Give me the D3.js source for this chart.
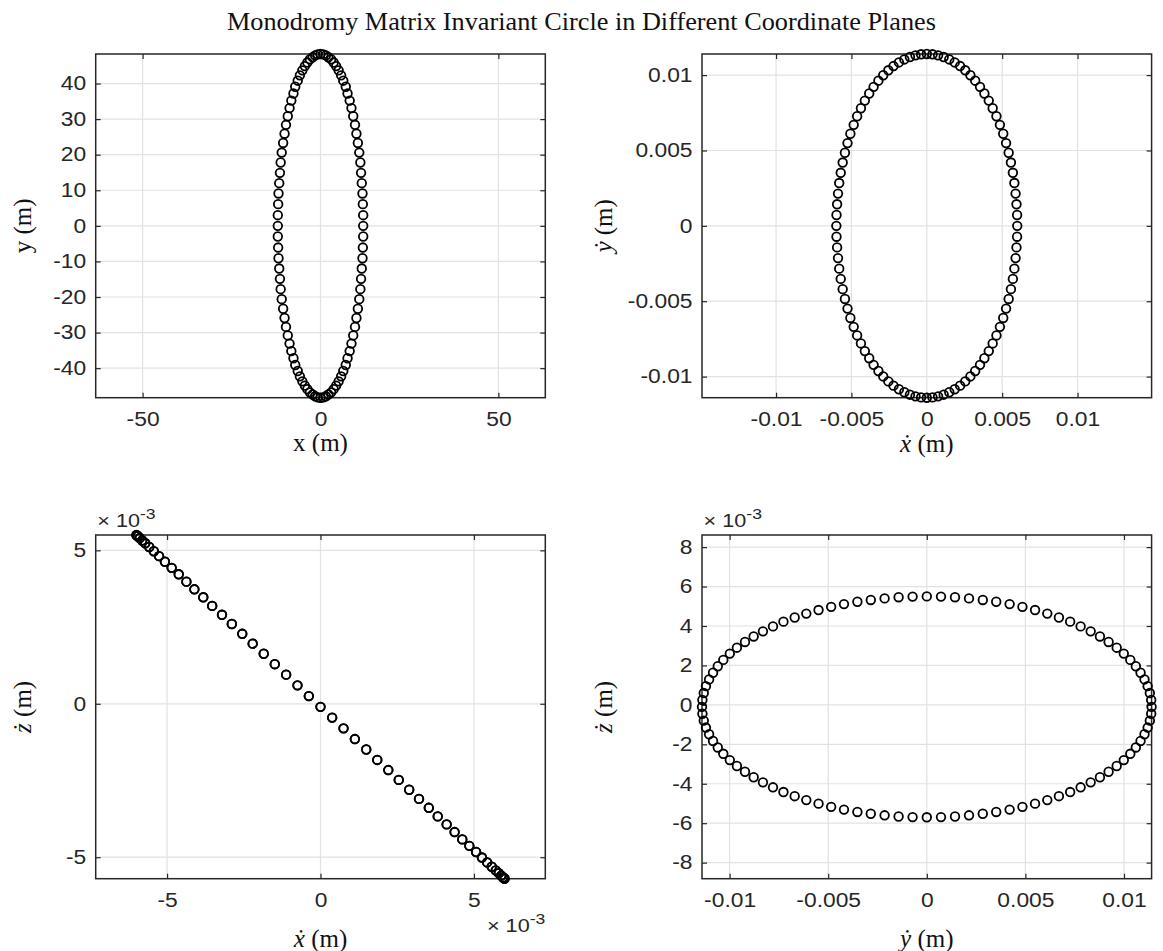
<!DOCTYPE html>
<html>
<head>
<meta charset="utf-8">
<script src="https://cdn.jsdelivr.net/npm/d3@7"></script>
<style>
  body { margin: 0; background: #fff; }
  svg { display: block; }
</style>
</head>
<body>
<div id="chart"></div>
<script>
// invariant circle samples
// positions in m, velocities in units of 1e-3 m
const xPos = [0, 0.8, 1.5, 2.2, 3.0, 3.7, 4.4, 5.1, 5.8, 6.4, 7.1, 7.6, 8.2, 8.7, 9.2, 9.7, 10.1, 10.5, 10.9, 11.2, 11.4, 11.6, 11.8, 11.9, 12.0, 12.0,
  12.0, 11.9, 11.8, 11.6, 11.4, 11.2, 10.9, 10.5, 10.1, 9.7, 9.2, 8.7, 8.2, 7.6, 7.1, 6.4, 5.8, 5.1, 4.4, 3.7, 3.0, 2.2, 1.5, 0.8, 0,
  -0.8, -1.5, -2.2, -3.0, -3.7, -4.4, -5.1, -5.8, -6.4, -7.1, -7.6, -8.2, -8.7, -9.2, -9.7, -10.1, -10.5, -10.9, -11.2, -11.4, -11.6, -11.8, -11.9, -12.0, -12.0,
  -12.0, -11.9, -11.8, -11.6, -11.4, -11.2, -10.9, -10.5, -10.1, -9.7, -9.2, -8.7, -8.2, -7.6, -7.1, -6.4, -5.8, -5.1, -4.4, -3.7, -3.0, -2.2, -1.5, -0.8]
const yPos = [48.3, 48.2, 47.9, 47.4, 46.8, 45.9, 44.9, 43.7, 42.3, 40.8, 39.1, 37.2, 35.2, 33.1, 30.8, 28.4, 25.9, 23.3, 20.6, 17.8, 14.9, 12.0, 9.1, 6.1, 3.0, 0,
  -3.0, -6.1, -9.1, -12.0, -14.9, -17.8, -20.6, -23.3, -25.9, -28.4, -30.8, -33.1, -35.2, -37.2, -39.1, -40.8, -42.3, -43.7, -44.9, -45.9, -46.8, -47.4, -47.9, -48.2, -48.3,
  -48.2, -47.9, -47.4, -46.8, -45.9, -44.9, -43.7, -42.3, -40.8, -39.1, -37.2, -35.2, -33.1, -30.8, -28.4, -25.9, -23.3, -20.6, -17.8, -14.9, -12.0, -9.1, -6.1, -3.0, 0,
  3.0, 6.1, 9.1, 12.0, 14.9, 17.8, 20.6, 23.3, 25.9, 28.4, 30.8, 33.1, 35.2, 37.2, 39.1, 40.8, 42.3, 43.7, 44.9, 45.9, 46.8, 47.4, 47.9, 48.2]
const xVel = [-6.00, -5.99, -5.95, -5.89, -5.81, -5.71, -5.58, -5.43, -5.26, -5.07, -4.85, -4.62, -4.37, -4.11, -3.82, -3.53, -3.21, -2.89, -2.55, -2.21, -1.85, -1.49, -1.12, -0.75, -0.38, 0,
  0.38, 0.75, 1.12, 1.49, 1.85, 2.21, 2.55, 2.89, 3.21, 3.53, 3.82, 4.11, 4.37, 4.62, 4.85, 5.07, 5.26, 5.43, 5.58, 5.71, 5.81, 5.89, 5.95, 5.99, 6.00,
  5.99, 5.95, 5.89, 5.81, 5.71, 5.58, 5.43, 5.26, 5.07, 4.85, 4.62, 4.37, 4.11, 3.82, 3.53, 3.21, 2.89, 2.55, 2.21, 1.85, 1.49, 1.12, 0.75, 0.38, 0,
  -0.38, -0.75, -1.12, -1.49, -1.85, -2.21, -2.55, -2.89, -3.21, -3.53, -3.82, -4.11, -4.37, -4.62, -4.85, -5.07, -5.26, -5.43, -5.58, -5.71, -5.81, -5.89, -5.95, -5.99]
const yVel = [0, 0.72, 1.43, 2.14, 2.84, 3.52, 4.20, 4.85, 5.49, 6.11, 6.70, 7.27, 7.80, 8.31, 8.78, 9.22, 9.63, 9.99, 10.32, 10.60, 10.84, 11.04, 11.20, 11.31, 11.38, 11.40,
  11.38, 11.31, 11.20, 11.04, 10.84, 10.60, 10.32, 9.99, 9.63, 9.22, 8.78, 8.31, 7.80, 7.27, 6.70, 6.11, 5.49, 4.85, 4.20, 3.52, 2.84, 2.14, 1.43, 0.72, 0,
  -0.72, -1.43, -2.14, -2.84, -3.52, -4.20, -4.85, -5.49, -6.11, -6.70, -7.27, -7.80, -8.31, -8.78, -9.22, -9.63, -9.99, -10.32, -10.60, -10.84, -11.04, -11.20, -11.31, -11.38, -11.40,
  -11.38, -11.31, -11.20, -11.04, -10.84, -10.60, -10.32, -9.99, -9.63, -9.22, -8.78, -8.31, -7.80, -7.27, -6.70, -6.11, -5.49, -4.85, -4.20, -3.52, -2.84, -2.14, -1.43, -0.72]
const zVel = [5.50, 5.49, 5.46, 5.40, 5.32, 5.23, 5.11, 4.97, 4.81, 4.63, 4.43, 4.22, 3.98, 3.73, 3.47, 3.19, 2.90, 2.60, 2.28, 1.96, 1.63, 1.29, 0.95, 0.60, 0.25, -0.10,
  -0.45, -0.80, -1.15, -1.49, -1.83, -2.16, -2.48, -2.80, -3.10, -3.39, -3.67, -3.93, -4.18, -4.42, -4.63, -4.83, -5.01, -5.17, -5.31, -5.43, -5.52, -5.60, -5.66, -5.69, -5.70,
  -5.69, -5.66, -5.60, -5.52, -5.43, -5.31, -5.17, -5.01, -4.83, -4.63, -4.42, -4.18, -3.93, -3.67, -3.39, -3.10, -2.80, -2.48, -2.16, -1.83, -1.49, -1.15, -0.80, -0.45, -0.10,
  0.25, 0.60, 0.95, 1.29, 1.63, 1.96, 2.28, 2.60, 2.90, 3.19, 3.47, 3.73, 3.98, 4.22, 4.43, 4.63, 4.81, 4.97, 5.11, 5.23, 5.32, 5.40, 5.46, 5.49]

// tick values and labels
const posXTicks = [-50, 0, 50]
const posYTicks = [-40, -30, -20, -10, 0, 10, 20, 30, 40]
const velTicks = [-10, -5, 0, 5, 10]
const velTickLabels = ["-0.01", "-0.005", "0", "0.005", "0.01"]
const smallTicks = [-5, 0, 5]
const zTicks = [-8, -6, -4, -2, 0, 2, 4, 6, 8]

const width = 1163, height = 951
const sansFont = '"Liberation Sans", Arial, Helvetica, sans-serif'
const serifFont = '"Liberation Serif", "DejaVu Serif", serif'
const stretch = 1.17

const svg = d3.select('#chart').append('svg')
    .attr('width', width)
    .attr('height', height)

svg.append('text')
    .attr('x', 581.5)
    .attr('y', 30)
    .attr('text-anchor', 'middle')
    .attr('font-family', serifFont)
    .attr('font-size', 25)
    .attr('textLength', 709)
    .attr('lengthAdjust', 'spacingAndGlyphs')
    .attr('fill', '#111')
    .text('Monodromy Matrix Invariant Circle in Different Coordinate Planes')

function axisLabel(g, x, y, sym, dotted, rotate){
    let t = g.append('text')
        .attr('font-family', serifFont)
        .attr('font-size', 25)
        .attr('fill', '#111')
        .attr('text-anchor', 'middle')
        .attr('dominant-baseline', 'central')
        .attr('transform', 'translate(' + x + ',' + y + ')' + (rotate ? ' rotate(-90)' : ''))
    t.append('tspan').attr('font-style', dotted ? 'italic' : 'normal').text(sym)
    t.append('tspan').text(' (m)')
}

function exponent(g, x, y, anchor){
    let t = g.append('text')
        .attr('font-family', sansFont)
        .attr('font-size', 18.5)
        .attr('fill', '#262626')
        .attr('text-anchor', anchor)
        .attr('transform', 'translate(' + x + ',' + y + ') scale(' + stretch + ',1)')
    t.append('tspan').text('\u00d7 10')
    t.append('tspan').attr('font-size', 15).attr('dy', -8).text('-3')
}

function panel(cfg){
    const b = cfg.box
    const xe = d3.extent(cfg.xs), ye = d3.extent(cfg.ys)
    // equal data aspect, tight on the limiting direction
    const k = Math.min(b.w / (xe[1] - xe[0]), b.h / (ye[1] - ye[0]))
    const xc = (xe[0] + xe[1]) / 2, yc = (ye[0] + ye[1]) / 2
    const x = d3.scaleLinear().domain([xc - b.w / 2 / k, xc + b.w / 2 / k]).range([0, b.w])
    const y = d3.scaleLinear().domain([yc - b.h / 2 / k, yc + b.h / 2 / k]).range([b.h, 0])

    const g = svg.append('g').attr('transform', 'translate(' + b.x + ',' + b.y + ')')

    g.append('g').selectAll('line').data(cfg.xTicks).join('line')
        .attr('x1', d => x(d)).attr('x2', d => x(d))
        .attr('y1', 0).attr('y2', b.h)
        .attr('stroke', '#e2e2e2').attr('stroke-width', 1.2)
    g.append('g').selectAll('line').data(cfg.yTicks).join('line')
        .attr('y1', d => y(d)).attr('y2', d => y(d))
        .attr('x1', 0).attr('x2', b.w)
        .attr('stroke', '#e2e2e2').attr('stroke-width', 1.2)

    const xl = d => cfg.xLabels[cfg.xTicks.indexOf(d)]
    const yl = d => cfg.yLabels[cfg.yTicks.indexOf(d)]

    const axes = [
        g.append('g').attr('transform', 'translate(0,' + b.h + ')')
            .call(d3.axisBottom(x).tickValues(cfg.xTicks).tickFormat(xl).tickSizeInner(-5).tickSizeOuter(0).tickPadding(14)),
        g.append('g')
            .call(d3.axisTop(x).tickValues(cfg.xTicks).tickFormat('').tickSizeInner(-5).tickSizeOuter(0)),
        g.append('g')
            .call(d3.axisLeft(y).tickValues(cfg.yTicks).tickFormat(yl).tickSizeInner(-5).tickSizeOuter(0).tickPadding(8.1)),
        g.append('g').attr('transform', 'translate(' + b.w + ',0)')
            .call(d3.axisRight(y).tickValues(cfg.yTicks).tickFormat('').tickSizeInner(-5).tickSizeOuter(0))
    ]
    axes.forEach(a => {
        a.attr('font-family', sansFont).attr('font-size', 19.5)
        a.select('.domain').remove()
        a.selectAll('.tick line').attr('stroke', '#262626').attr('stroke-width', 1.2)
        a.selectAll('.tick text').attr('fill', '#262626').attr('transform', 'scale(' + stretch + ',1)')
    })

    g.append('rect')
        .attr('width', b.w).attr('height', b.h)
        .attr('fill', 'none').attr('stroke', '#262626').attr('stroke-width', 1.5)

    g.append('g').selectAll('circle').data(d3.range(cfg.xs.length)).join('circle')
        .attr('cx', i => x(cfg.xs[i]))
        .attr('cy', i => y(cfg.ys[i]))
        .attr('r', 4.3)
        .attr('fill', 'none')
        .attr('stroke', '#000')
        .attr('stroke-width', 1.8)

    axisLabel(svg, b.x + x(0), b.y + b.h + cfg.xlabelGap, cfg.xSym, cfg.xDot, false)
    axisLabel(svg, cfg.ylabelX, b.y + b.h / 2, cfg.ySym, cfg.yDot, true)
    if (cfg.yExp) exponent(svg, b.x + 1.6, b.y - 8.3, 'start')
    if (cfg.xExp) exponent(svg, b.x + b.w, b.y + b.h + 53, 'end')
}

const boxW = 449.6, boxH = 343.7

panel({
    box: {x: 95.7, y: 54, w: boxW, h: boxH},
    xs: xPos, ys: yPos,
    xTicks: posXTicks, xLabels: posXTicks.map(String),
    yTicks: posYTicks, yLabels: posYTicks.map(String),
    xSym: 'x', ySym: 'y', xDot: false, yDot: false,
    xlabelGap: 44.5, ylabelX: 22
})
panel({
    box: {x: 702, y: 54, w: boxW, h: boxH},
    xs: xVel, ys: yVel,
    xTicks: velTicks, xLabels: velTickLabels,
    yTicks: velTicks, yLabels: velTickLabels,
    xSym: '\u1e8b', ySym: '\u1e8f', xDot: true, yDot: true,
    xlabelGap: 45, ylabelX: 603
})
panel({
    box: {x: 95.7, y: 535, w: boxW, h: boxH},
    xs: xVel, ys: zVel,
    xTicks: smallTicks, xLabels: smallTicks.map(String),
    yTicks: smallTicks, yLabels: smallTicks.map(String),
    xSym: '\u1e8b', ySym: '\u017c', xDot: true, yDot: true,
    xlabelGap: 59, ylabelX: 22, yExp: true, xExp: true
})
panel({
    box: {x: 702, y: 535, w: boxW, h: boxH},
    xs: yVel, ys: zVel,
    xTicks: velTicks, xLabels: velTickLabels,
    yTicks: zTicks, yLabels: zTicks.map(String),
    xSym: '\u1e8f', ySym: '\u017c', xDot: true, yDot: true,
    xlabelGap: 59, ylabelX: 603, yExp: true
})
</script>
</body>
</html>
